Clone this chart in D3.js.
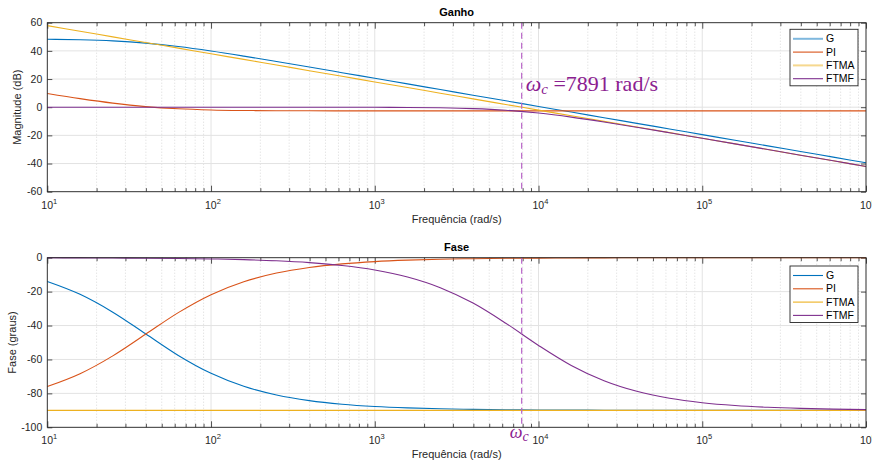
<!doctype html>
<html>
<head>
	<meta charset="utf-8">
	<title>Bode</title>
	<script src="https://cdnjs.cloudflare.com/ajax/libs/d3/7.8.5/d3.min.js"></script>
	<style>
		body { margin: 0; background: #fff; }
		svg { display: block; font-family: "Liberation Sans", Arial, sans-serif; }
		.tick line { stroke: #262626; stroke-width: 0.8; }
		.domain { display: none; }
	</style>
</head>
<body>
	<script>
		// frequencies (rad/s), 5 points per decade
		var freq = [10, 15.85, 25.12, 39.81, 63.1, 100, 158.5, 251.2, 398.1, 631, 1000, 1585, 2512, 3981, 6310,
			1e4, 15850, 25120, 39810, 63100, 1e5, 158500, 251200, 398100, 631000, 1e6];

		// magnitude (dB)
		var gMag = [48.24, 47.87, 47.06, 45.51, 43.07, 39.90, 36.27, 32.43, 28.50, 24.52, 20.53, 16.54, 12.54, 8.54, 4.54,
			0.54, -3.46, -7.46, -11.46, -15.46, -19.46, -23.46, -27.46, -31.46, -35.46, -39.46];
		var piMag = [9.70, 6.07, 2.89, 0.43, -1.13, -1.96, -2.33, -2.49, -2.56, -2.58, -2.59, -2.6, -2.6, -2.6, -2.6,
			-2.6, -2.6, -2.6, -2.6, -2.6, -2.6, -2.6, -2.6, -2.6, -2.6, -2.6];
		var ftmaMag = [57.94, 53.94, 49.94, 45.94, 41.94, 37.94, 33.94, 29.94, 25.94, 21.94, 17.94, 13.94, 9.94, 5.94, 1.94,
			-2.06, -6.06, -10.06, -14.06, -18.06, -22.06, -26.06, -30.06, -34.06, -38.06, -42.06];
		var ftmfMag = [0, 0, 0, 0, 0, 0, 0, 0, -0.01, -0.03, -0.07, -0.17, -0.42, -0.99, -2.15,
			-4.16, -7.02, -10.47, -14.23, -18.13, -22.09, -26.07, -30.06, -34.06, -38.06, -42.06];

		// phase (graus)
		var gPhase = [-14.04, -21.61, -32.13, -44.86, -57.63, -68.20, -75.83, -80.95, -84.26, -86.37, -87.71, -88.55, -89.09, -89.42, -89.64,
			-89.77, -89.86, -89.91, -89.94, -89.96, -89.98, -89.99, -89.99, -89.99, -90, -90];
		var piPhase = [-75.96, -68.39, -57.87, -45.14, -32.37, -21.80, -14.17, -9.05, -5.74, -3.63, -2.29, -1.45, -0.91, -0.58, -0.36,
			-0.23, -0.14, -0.09, -0.06, -0.04, -0.02, -0.01, -0.01, -0.01, 0, 0];
		var ftmaPhase = [-90, -90, -90, -90, -90, -90, -90, -90, -90, -90, -90, -90, -90, -90, -90,
			-90, -90, -90, -90, -90, -90, -90, -90, -90, -90, -90];
		var ftmfPhase = [-0.07, -0.12, -0.18, -0.29, -0.46, -0.73, -1.15, -1.82, -2.89, -4.57, -7.22, -11.36, -17.66, -26.77, -38.64,
			-51.72, -63.53, -72.56, -78.79, -82.87, -85.49, -87.15, -88.20, -88.86, -89.28, -89.55];

		var seriesNames = ['G', 'PI', 'FTMA', 'FTMF'];
		var colors = ['#0072BD', '#D95319', '#EDB120', '#7E2F8E'];
		var wc = 7891;
		var magTicks = [-60, -40, -20, 0, 20, 40, 60];
		var phaseTicks = [-100, -80, -60, -40, -20, 0];
		var decades = [10, 100, 1000, 1e4, 1e5, 1e6];

		var W = 872, H = 467;
		var svg = d3.select('body').append('svg')
			.attr('width', W)
			.attr('height', H);

		var x = d3.scaleLog().domain([10, 1e6]).range([47.3, 866]);

		var minors = [];
		decades.slice(0, -1).forEach(function (d) {
			for (var k = 2; k < 10; k++) minors.push(d * k);
		});

		function drawPanel(opt) {
			var y = opt.y;
			var top = y.range()[1], bottom = y.range()[0];
			var left = x.range()[0], right = x.range()[1];
			var g = svg.append('g');

			// grid
			g.selectAll('.minor').data(minors).enter().append('line')
				.attr('x1', function (d) { return x(d); })
				.attr('x2', function (d) { return x(d); })
				.attr('y1', top).attr('y2', bottom)
				.attr('stroke', '#d0d0d0').attr('stroke-width', 0.8)
				.attr('stroke-dasharray', '1,2');
			g.selectAll('.gx').data(decades).enter().append('line')
				.attr('x1', function (d) { return x(d); })
				.attr('x2', function (d) { return x(d); })
				.attr('y1', top).attr('y2', bottom)
				.attr('stroke', '#e3e3e3').attr('stroke-width', 1);
			g.selectAll('.gy').data(opt.ticks).enter().append('line')
				.attr('x1', left).attr('x2', right)
				.attr('y1', function (d) { return y(d); })
				.attr('y2', function (d) { return y(d); })
				.attr('stroke', '#e3e3e3').attr('stroke-width', 1);

			// ticks on all four sides, pointing in
			g.append('g').attr('transform', 'translate(0,' + bottom + ')')
				.call(d3.axisBottom(x).tickValues(decades).tickSizeInner(-6).tickSizeOuter(0).tickFormat(''));
			g.append('g').attr('transform', 'translate(0,' + bottom + ')')
				.call(d3.axisBottom(x).tickValues(minors).tickSizeInner(-3.5).tickSizeOuter(0).tickFormat(''));
			g.append('g').attr('transform', 'translate(0,' + top + ')')
				.call(d3.axisTop(x).tickValues(decades).tickSizeInner(-6).tickSizeOuter(0).tickFormat(''));
			g.append('g').attr('transform', 'translate(0,' + top + ')')
				.call(d3.axisTop(x).tickValues(minors).tickSizeInner(-3.5).tickSizeOuter(0).tickFormat(''));
			g.append('g').attr('transform', 'translate(' + left + ',0)')
				.call(d3.axisLeft(y).tickValues(opt.ticks).tickSizeInner(-5).tickSizeOuter(0).tickFormat(''));
			g.append('g').attr('transform', 'translate(' + right + ',0)')
				.call(d3.axisRight(y).tickValues(opt.ticks).tickSizeInner(-5).tickSizeOuter(0).tickFormat(''));

			// tick labels
			g.selectAll('.ylab').data(opt.ticks).enter().append('text')
				.attr('x', left - 5)
				.attr('y', function (d) { return y(d); })
				.attr('dy', '0.35em')
				.attr('text-anchor', 'end')
				.attr('font-size', 10.5)
				.attr('fill', '#262626')
				.text(function (d) { return d; });
			var xl = g.selectAll('.xlab').data(decades).enter().append('text')
				.attr('x', function (d) { return x(d) - 6; })
				.attr('y', bottom + 17)
				.attr('font-size', 10.5)
				.attr('fill', '#262626');
			xl.append('tspan').text('10');
			xl.append('tspan').attr('dy', -5).attr('font-size', 7.5)
				.text(function (d) { return Math.round(Math.log10(d)); });

			// labels and title
			g.append('text')
				.attr('x', (left + right) / 2).attr('y', bottom + 31)
				.attr('text-anchor', 'middle').attr('font-size', 11).attr('fill', '#262626')
				.text('Frequência (rad/s)');
			g.append('text')
				.attr('transform', 'translate(' + opt.ylabelX + ',' + (top + bottom) / 2 + ') rotate(-90)')
				.attr('text-anchor', 'middle').attr('font-size', 11).attr('fill', '#262626')
				.text(opt.ylabel);
			g.append('text')
				.attr('x', (left + right) / 2).attr('y', top - 7)
				.attr('text-anchor', 'middle').attr('font-size', 11).attr('font-weight', 'bold')
				.attr('fill', '#000')
				.text(opt.title);

			// curves
			var line = d3.line()
				.x(function (d) { return x(d[0]); })
				.y(function (d) { return y(d[1]); })
				.curve(d3.curveMonotoneX);
			opt.series.forEach(function (vals, i) {
				g.append('path')
					.datum(d3.zip(freq, vals))
					.attr('d', line)
					.attr('fill', 'none')
					.attr('stroke', colors[i])
					.attr('stroke-width', 1.1);
			});

			// crossover marker
			g.append('line')
				.attr('x1', x(wc)).attr('x2', x(wc))
				.attr('y1', top).attr('y2', bottom)
				.attr('stroke', '#b865c8').attr('stroke-width', 1.2)
				.attr('stroke-dasharray', '6,4');

			// box
			g.append('rect')
				.attr('x', left).attr('y', top)
				.attr('width', right - left).attr('height', bottom - top)
				.attr('fill', 'none').attr('stroke', '#262626').attr('stroke-width', 0.9);

			// legend
			var lg = g.append('g').attr('transform', 'translate(790,' + opt.legendTop + ')');
			lg.append('rect')
				.attr('width', 68).attr('height', 56.5)
				.attr('fill', '#fff').attr('stroke', '#262626').attr('stroke-width', 0.9);
			seriesNames.forEach(function (name, i) {
				var ly = 9.5 + i * 13.3;
				// the top legend shows G and FTMA as pale, thicker strokes
				var pale = opt.paleLegend && (i === 0 || i === 2);
				lg.append('line')
					.attr('x1', 3).attr('x2', 33).attr('y1', ly).attr('y2', ly)
					.attr('stroke', colors[i])
					.attr('stroke-width', pale ? 2 : 1.1)
					.attr('stroke-opacity', pale ? 0.5 : 1);
				lg.append('text')
					.attr('x', 36).attr('y', ly).attr('dy', '0.35em')
					.attr('font-size', 10.5).attr('fill', '#000')
					.text(name);
			});
			return g;
		}

		var yMag = d3.scaleLinear().domain([-60, 60]).range([191.7, 22.7]);
		var yPh = d3.scaleLinear().domain([-100, 0]).range([427.3, 257.7]);

		var top1 = drawPanel({
			y: yMag, ticks: magTicks, title: 'Ganho', ylabel: 'Magnitude (dB)', ylabelX: 21,
			series: [gMag, piMag, ftmaMag, ftmfMag], legendTop: 29.3, paleLegend: true
		});
		var bot = drawPanel({
			y: yPh, ticks: phaseTicks, title: 'Fase', ylabel: 'Fase (graus)', ylabelX: 16,
			series: [gPhase, piPhase, ftmaPhase, ftmfPhase], legendTop: 266, paleLegend: false
		});

		// crossover annotations
		var ann = top1.append('text')
			.attr('x', x(wc) + 4).attr('y', 90.5)
			.attr('font-family', '"Liberation Serif", "Times New Roman", serif')
			.attr('font-size', 22).attr('fill', '#8b2090');
		ann.append('tspan').attr('font-style', 'italic').text('ω');
		ann.append('tspan').attr('font-style', 'italic').attr('font-size', 15).attr('dy', 3).text('c');
		ann.append('tspan').attr('dy', -3).text(' =7891 rad/s');

		var ann2 = bot.append('text')
			.attr('x', x(wc) - 12).attr('y', 438)
			.attr('font-family', '"Liberation Serif", "Times New Roman", serif')
			.attr('font-size', 18).attr('fill', '#8b2090');
		ann2.append('tspan').attr('font-style', 'italic').text('ω');
		ann2.append('tspan').attr('font-style', 'italic').attr('font-size', 14).attr('dy', 3).text('c');
	</script>
</body>
</html>
